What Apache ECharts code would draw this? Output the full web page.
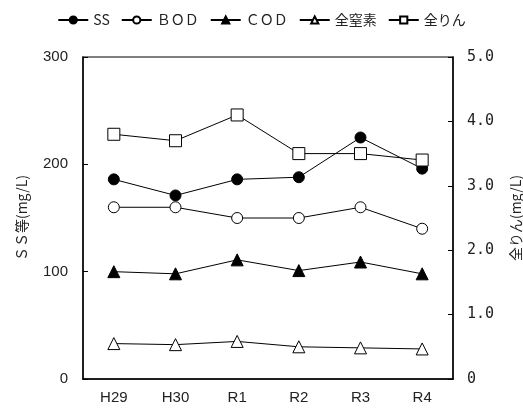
<!DOCTYPE html>
<html>
<head>
<meta charset="utf-8">
<script src="https://cdn.jsdelivr.net/npm/echarts@6/dist/echarts.min.js"></script>
<style>
html,body{margin:0;padding:0;background:#fff;}
#main{width:523px;height:415px;}
</style>
</head>
<body>
<div id="main"></div>
<script>
var chart = echarts.init(document.getElementById('main'));

var years = ['H29', 'H30', 'R1', 'R2', 'R3', 'R4'];
var ss = [186, 171, 186, 188, 225, 196];
var bod = [160, 160, 150, 150, 160, 140];
var cod = [100, 98, 111, 101, 109, 98];
var tn = [33, 32, 35, 30, 29, 28];      // 全窒素
var tp = [3.8, 3.7, 4.1, 3.5, 3.5, 3.4]; // 全りん (右軸)

var numFont = '"Liberation Sans Narrow", "Liberation Sans", sans-serif';
var jpFont = '"Noto Sans CJK JP", sans-serif';

function mk(name, data, symbol, filled, axis, size) {
	return {
		name: name,
		type: 'line',
		yAxisIndex: axis,
		data: data,
		symbol: symbol,
		symbolSize: size,
		showAllSymbol: true,
		lineStyle: { color: '#000', width: 1 },
		itemStyle: {
			color: filled ? '#000' : '#fff',
			borderColor: '#000',
			borderWidth: 1
		},
		z: 3
	};
}

var option = {
	animation: false,
	textStyle: { fontFamily: jpFont },
	legend: {
		top: 8,
		left: 'center',
		itemWidth: 30,
		itemHeight: 9,
		itemGap: 11,
		textStyle: { fontSize: 14, color: '#222', fontFamily: jpFont },
		data: ['SS', 'ＢＯＤ', 'ＣＯＤ', '全窒素', '全りん']
	},
	grid: {
		left: 83,
		right: 70,
		top: 57,
		bottom: 36,
		outerBoundsMode: 'none',
		show: true,
		borderColor: '#555',
		borderWidth: 1.5
	},
	xAxis: {
		type: 'category',
		data: years,
		axisLine: { lineStyle: { color: '#000', width: 1.5 } },
		axisTick: { inside: true, length: 5, lineStyle: { color: '#000' } },
		axisLabel: { fontFamily: numFont, fontSize: 15, color: '#222', margin: 11 },
		splitLine: { show: false }
	},
	yAxis: [{
		type: 'value',
		min: 0,
		max: 300,
		interval: 100,
		name: 'ＳＳ等(mg/L)',
		nameLocation: 'middle',
		nameRotate: 90,
		nameGap: 54,
		nameTextStyle: { fontSize: 14, color: '#222', fontFamily: jpFont },
		axisLine: { show: true, lineStyle: { color: '#000', width: 1.5 } },
		axisTick: { show: true, inside: true, length: 5, lineStyle: { color: '#000' } },
		axisLabel: { fontFamily: numFont, fontSize: 15, color: '#222', margin: 15 },
		splitLine: { show: false }
	}, {
		type: 'value',
		min: 0,
		max: 5,
		interval: 1,
		name: '全りん(mg/L)',
		nameLocation: 'middle',
		nameRotate: 90,
		nameGap: 56,
		nameTextStyle: { fontSize: 14, color: '#222', fontFamily: jpFont },
		axisLine: { show: true, lineStyle: { color: '#000', width: 1.5 } },
		axisTick: { show: true, inside: true, length: 5, lineStyle: { color: '#000' } },
		axisLabel: {
			fontFamily: '"DejaVu Sans Mono", monospace',
			fontSize: 15,
			color: '#222',
			margin: 14,
			formatter: function (v) { return v === 0 ? '0' : v.toFixed(1); }
		},
		splitLine: { show: false }
	}],
	series: [
		mk('SS', ss, 'circle', true, 0, 11),
		mk('ＢＯＤ', bod, 'circle', false, 0, 11),
		mk('ＣＯＤ', cod, 'triangle', true, 0, 12),
		mk('全窒素', tn, 'triangle', false, 0, 12),
		mk('全りん', tp, 'rect', false, 1, 12)
	]
};
chart.setOption(option);
</script>
</body>
</html>
